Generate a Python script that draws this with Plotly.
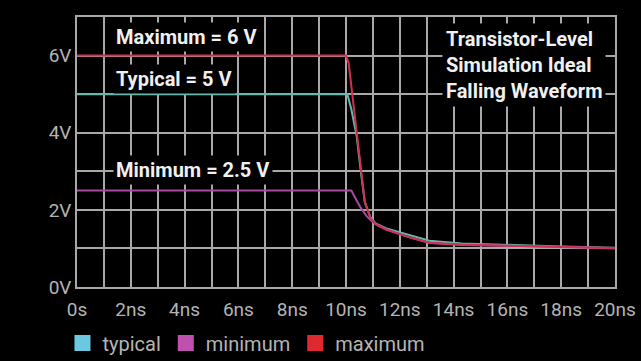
import plotly.graph_objects as go

# ---- data (time in ns, voltage in V) ----
maximum_t = [0, 10.0, 10.1, 10.25, 10.4, 10.55, 10.7, 10.9, 11.1, 11.5, 12.3, 13.1, 14.3, 16.5, 18, 20]
maximum_v = [6, 6, 5.8, 4.9, 4.0, 3.0, 2.2, 1.8, 1.62, 1.48, 1.3, 1.15, 1.1, 1.06, 1.04, 1.01]

typical_t = [0, 10.05, 10.2, 10.4, 10.55, 10.7, 10.9, 11.1, 11.5, 12.3, 13.1, 14.3, 16.5, 18, 20]
typical_v = [5, 5, 4.6, 3.9, 3.0, 2.2, 1.82, 1.65, 1.52, 1.36, 1.2, 1.13, 1.08, 1.05, 1.02]

minimum_t = [0, 10.2, 10.35, 10.55, 10.75, 11.0, 11.5, 12.3, 13.1, 14.3, 16.5, 18, 20]
minimum_v = [2.5, 2.5, 2.3, 2.05, 1.85, 1.68, 1.5, 1.3, 1.14, 1.09, 1.06, 1.03, 1.0]

x_tickvals = [0, 2, 4, 6, 8, 10, 12, 14, 16, 18, 20]
x_ticktext = ["0s", "2ns", "4ns", "6ns", "8ns", "10ns", "12ns", "14ns", "16ns", "18ns", "20ns"]
y_tickvals = [0, 2, 4, 6]
y_ticktext = ["0V", "2V", "4V", "6V"]

series_names = ["typical", "minimum", "maximum"]
line_colors = {"typical": "#63b8ac", "minimum": "#a84aa0", "maximum": "#d0304f"}
swatch_colors = {"typical": "#6cc8e0", "minimum": "#c050b0", "maximum": "#e02830"}

labels = [("Maximum = 6 V", 1.35, 6.48), ("Typical = 5 V", 1.35, 5.39), ("Minimum = 2.5 V", 1.35, 3.03)]
title_text = "Transistor-Level<br>Simulation Ideal<br>Falling Waveform"

series = {
    "typical": (typical_t, typical_v),
    "minimum": (minimum_t, minimum_v),
    "maximum": (maximum_t, maximum_v),
}

fig = go.Figure()
for name in ["typical", "minimum", "maximum"]:
    t, v = series[name]
    fig.add_trace(go.Scatter(x=t, y=v, mode="lines", name=name, showlegend=False,
                             line=dict(color=line_colors[name], width=2)))
for name in series_names:
    fig.add_trace(go.Scatter(x=[None], y=[None], mode="markers", name=name,
                             marker=dict(symbol="square", size=16, color=swatch_colors[name])))

narrow = "Roboto, sans-serif"
tick_font = dict(family=narrow, size=19, color="#b4b4b4")
grid_col = "#a8a8a8"

fig.update_xaxes(range=[0, 20], tickvals=x_tickvals, ticktext=x_ticktext, showgrid=True,
                 gridcolor=grid_col, gridwidth=1.5, zeroline=False, showline=True, linecolor=grid_col,
                 linewidth=1.5, mirror=True, tickfont=tick_font, ticks="", ticklabelstandoff=4,
                 automargin=False,
                 minor=dict(dtick=1, showgrid=True, gridcolor=grid_col, gridwidth=1.5))
fig.update_yaxes(range=[0, 7], tickvals=y_tickvals, ticktext=y_ticktext, showgrid=True,
                 gridcolor=grid_col, gridwidth=1.5, zeroline=False, showline=True, linecolor=grid_col,
                 linewidth=1.5, mirror=True, tickfont=tick_font, ticks="", automargin=False,
                 minor=dict(dtick=1, showgrid=True, gridcolor=grid_col, gridwidth=1.5))

ann_font = dict(family="Roboto, Open Sans, sans-serif", size=20, color="#f0f0f0", weight="bold")
for text, x, y in labels:
    fig.add_annotation(x=x, y=y, xref="x", yref="y", text=text, showarrow=False,
                       xanchor="left", yanchor="middle", font=ann_font, bgcolor="#000000", borderpad=2)
fig.add_annotation(x=13.55, y=5.75, xref="x", yref="y", text=title_text, showarrow=False,
                   xanchor="left", yanchor="middle", align="left", font=ann_font,
                   bgcolor="#000000", borderpad=3)

fig.update_layout(
    width=641, height=361,
    paper_bgcolor="#000000", plot_bgcolor="#000000",
    margin=dict(l=77, r=26, t=17, b=74, autoexpand=False),
    legend=dict(orientation="h", x=-0.027, xanchor="left", y=-0.207, yanchor="middle",
                font=dict(family=narrow, size=20, color="#b4b4b4"),
                itemwidth=30, bgcolor="rgba(0,0,0,0)"),
)

fig.write_html("out.html")
